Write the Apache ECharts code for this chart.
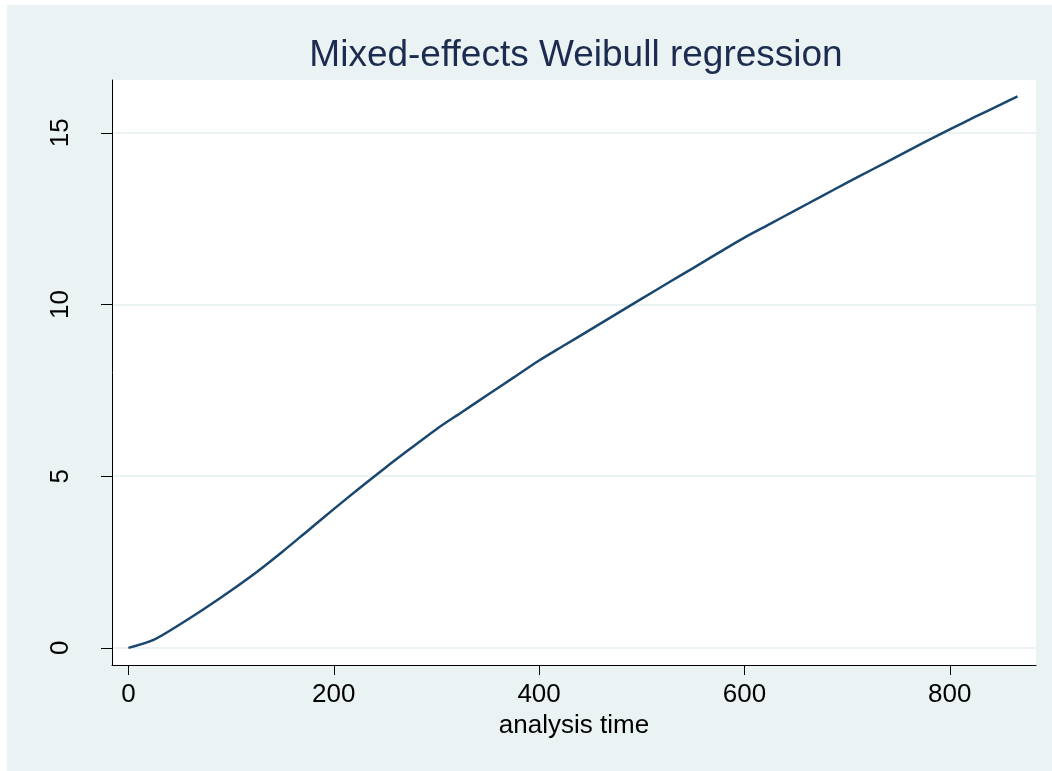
<!DOCTYPE html>
<html>
<head>
<meta charset="utf-8">
<title>Mixed-effects Weibull regression</title>
<script src="https://cdn.jsdelivr.net/npm/echarts@6/dist/echarts.min.js"></script>
<style>
  html, body { margin: 0; padding: 0; background: #fff; overflow: hidden; }
  #main { position: absolute; left: 7px; top: 5px; width: 1045px; height: 766px; }
</style>
</head>
<body>
<div id="main"></div>
<script>
// analysis time (x) and cumulative hazard (y)
const timeValues = [0, 25, 50, 75, 100, 125, 150, 175, 200, 225, 250, 275, 300, 325, 350, 375, 400, 425,
  450, 475, 500, 525, 550, 575, 600, 625, 650, 675, 700, 725, 750, 775, 800, 825, 850, 866];
const hazardValues = [0, 0.24, 0.68, 1.16, 1.67, 2.21, 2.80, 3.42, 4.04, 4.65, 5.24, 5.81, 6.37, 6.87, 7.37, 7.87, 8.37, 8.82,
  9.27, 9.72, 10.17, 10.62, 11.06, 11.51, 11.95, 12.35, 12.75, 13.15, 13.55, 13.94, 14.33, 14.72, 15.10, 15.47, 15.83, 16.06];
const xTicks = [0, 200, 400, 600, 800];
const yTicks = [0, 5, 10, 15];

const font = 'Liberation Sans, Arial, sans-serif';

const myChart = echarts.init(document.getElementById('main'));
const option = {
  backgroundColor: '#eaf2f3',
  animation: false,
  title: {
    text: 'Mixed-effects Weibull regression',
    left: 569,
    top: 32,
    padding: 0,
    textAlign: 'center',
    textStyle: {
      color: '#1c2b50',
      fontSize: 37,
      fontWeight: 'normal',
      fontFamily: font
    }
  },
  grid: {
    left: 105,
    top: 75,
    right: 16,
    bottom: 106,
    show: true,
    backgroundColor: '#fff',
    borderWidth: 0
  },
  xAxis: {
    type: 'value',
    min: -16,
    max: 884,
    name: 'analysis time',
    nameLocation: 'middle',
    nameGap: 46,
    nameTextStyle: { color: '#000', fontSize: 26, fontFamily: font },
    axisLine: { show: true, onZero: false, lineStyle: { color: '#000', width: 1 } },
    axisTick: { show: true, length: 10, customValues: xTicks, lineStyle: { color: '#000' } },
    axisLabel: { customValues: xTicks, color: '#000', fontSize: 26, fontFamily: font, margin: 17 },
    splitLine: { show: false }
  },
  yAxis: {
    type: 'value',
    min: -0.5,
    max: 16.54,
    axisLine: { show: true, onZero: false, lineStyle: { color: '#000', width: 1 } },
    axisTick: { show: true, length: 11, customValues: yTicks, lineStyle: { color: '#000' } },
    axisLabel: { customValues: yTicks, rotate: 90, color: '#000', fontSize: 26, fontFamily: font, margin: 38 },
    splitLine: { show: true, lineStyle: { color: '#eaf2f3', width: 2 } }
  },
  series: [{
    type: 'line',
    data: timeValues.map((t, i) => [t, hazardValues[i]]),
    showSymbol: false,
    smooth: 0.3,
    lineStyle: { color: '#1a476f', width: 2.5 }
  }]
};
myChart.setOption(option);
</script>
</body>
</html>
